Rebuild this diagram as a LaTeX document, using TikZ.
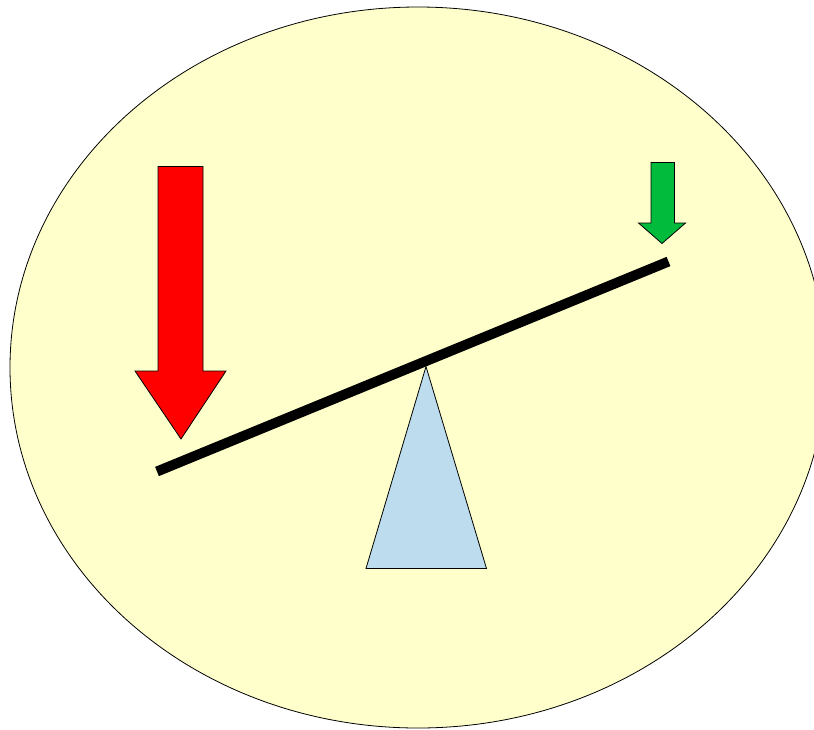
\documentclass[tikz,border=0pt]{standalone}
\begin{document}
\begin{tikzpicture}[x=1pt,y=-1pt,
  outline/.style={draw=black,line width=0.8pt,line join=miter},
  beam/.style={line width=10pt,line cap=butt,draw=black}]
\definecolor{bgyellow}{RGB}{255,255,204}
\definecolor{arrowred}{RGB}{255,0,0}
\definecolor{arrowgreen}{RGB}{0,187,60}
\definecolor{fulcrumblue}{RGB}{189,221,239}
\useasboundingbox (0,0) rectangle (814,729);
\clip (0,0) rectangle (814,729);
% background ellipse
\draw[outline,fill=bgyellow] (418,367.5) ellipse [x radius=408, y radius=360.5];
% fulcrum
\draw[outline,fill=fulcrumblue] (426,366.5) -- (486.5,568.5) -- (366,568.5) -- cycle;
% beam
\draw[beam] (157,471.5) -- (668.5,261.5);
% red arrow
\draw[outline,fill=arrowred] (158,166.5) -- (203,166.5) -- (203,371) -- (226,371)
  -- (181,439) -- (135,371) -- (158,371) -- cycle;
% green arrow
\draw[outline,fill=arrowgreen] (651,162.5) -- (674.5,162.5) -- (674.5,223) -- (685.5,223)
  -- (662,243.5) -- (638.5,223) -- (651,223) -- cycle;
\end{tikzpicture}
\end{document}
